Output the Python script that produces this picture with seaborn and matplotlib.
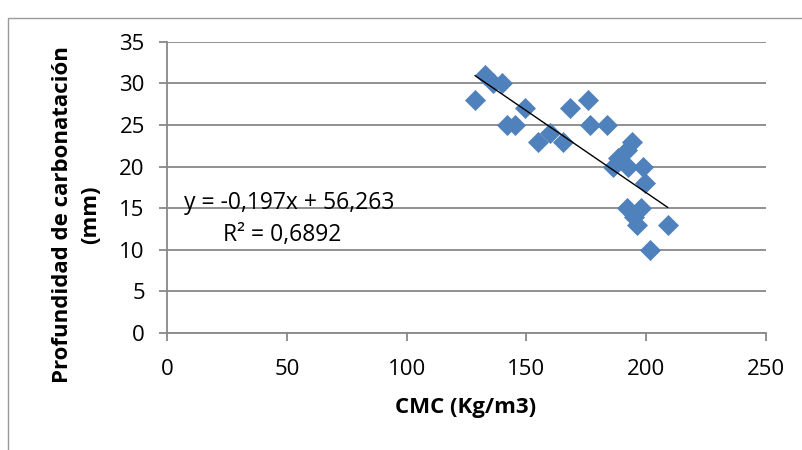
import matplotlib
matplotlib.use("Agg")
import matplotlib.pyplot as plt
import seaborn as sns
import numpy as np
import pandas as pd
from matplotlib.patches import Rectangle

cmc = [128.5, 132.7, 136, 139.8, 149.4, 141.9, 145.2, 154.8, 160, 165.3,
       168, 175.7, 176.5, 183.6, 194, 192, 188, 186, 192.4, 198.7, 199.5,
       192, 198, 195, 196, 201.6, 209]
depth = [28, 31, 30, 30, 27, 25, 25, 23, 24, 23,
         27, 28, 25, 25, 23, 22, 21, 20, 20, 20, 18,
         15, 15, 14, 13, 10, 13]
slope, intercept = -0.197, 56.263
eq_text = "y = -0,197x + 56,263"
r2_text = "R² = 0,6892"
xlabel = "CMC (Kg/m3)"
ylabel = "Profundidad de carbonatación\n(mm)"

df = pd.DataFrame({"CMC": cmc, "Prof": depth})

sns.set_theme(style="white")
plt.rcParams['font.family'] = ['Open Sans', 'DejaVu Sans']
plt.rcParams['text.color'] = 'black'
plt.rcParams['xtick.color'] = '#888888'
plt.rcParams['ytick.color'] = '#888888'
plt.rcParams['xtick.labelcolor'] = 'black'
plt.rcParams['ytick.labelcolor'] = 'black'

fig = plt.figure(figsize=(8.03, 4.5), dpi=100)
ax = fig.add_axes([0.208, 0.26, 0.746, 0.647])

fig.patches.append(Rectangle((0.010, -0.05), 1.1, 1.01, transform=fig.transFigure,
                             fill=False, edgecolor='#9a9a9a', linewidth=1.0))

sns.scatterplot(data=df, x="CMC", y="Prof", marker='D', s=115, color='#4F81BD',
                edgecolor='#4F81BD', linewidth=0, ax=ax, zorder=3)

xs = np.array([min(cmc), max(cmc)])
ax.plot(xs, slope * xs + intercept, color='black', linewidth=1.0, zorder=4)

ax.set_xlim(0, 250)
ax.set_ylim(0, 35)
ax.set_xticks(range(0, 251, 50))
ax.set_yticks(range(0, 36, 5))
ax.yaxis.grid(True, color='#888888', linewidth=1.3)
ax.xaxis.grid(False)
for s in ['top', 'right']:
    ax.spines[s].set_visible(False)
for s in ['left', 'bottom']:
    ax.spines[s].set_color('#888888')
    ax.spines[s].set_linewidth(1.3)
ax.tick_params(axis='both', which='both', length=6, width=1.3, direction='out',
               labelsize=16)
ax.tick_params(axis='x', bottom=True, pad=13)
ax.tick_params(axis='y', left=True, pad=10)
ax.set_xlabel("")
ax.set_ylabel("")

fig.text(465.5 / 803, 1 - 408 / 450, xlabel, fontsize=16, fontweight='bold',
         ha='center', va='center')
fig.text(76.5 / 803, 1 - 215 / 450, ylabel, fontsize=16, fontweight='bold',
         ha='center', va='center', rotation=90, linespacing=1.43, multialignment='center')

ax.text(50.9, 15.64, eq_text, fontsize=16.5, va='center', ha='center')
ax.text(48.0, 11.8, r2_text, fontsize=16.5, va='center', ha='center')

fig.savefig("out.png", dpi=100)
